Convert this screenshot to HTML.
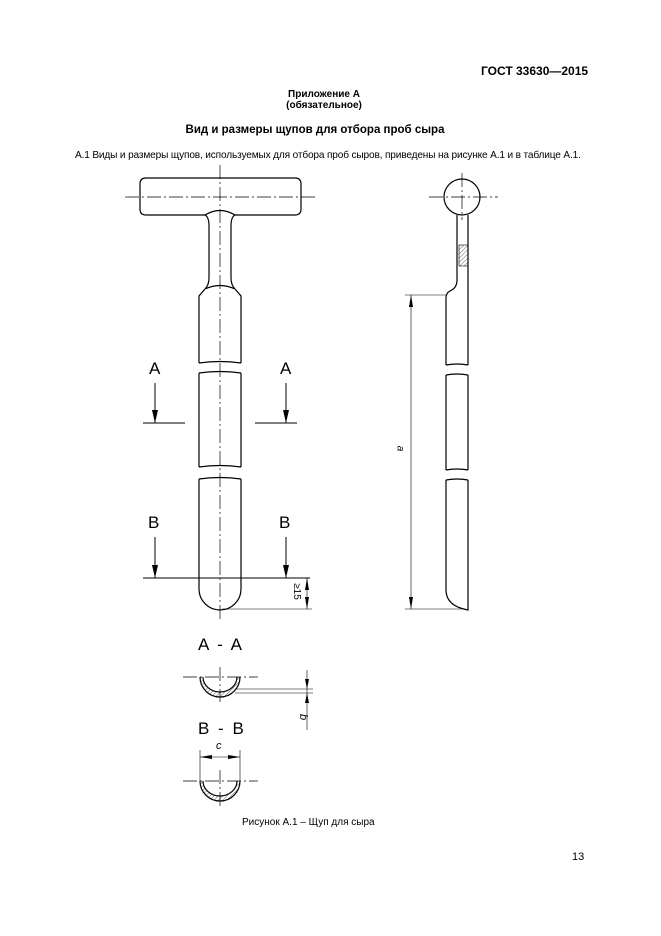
<!DOCTYPE html><html><head><meta charset="utf-8"><style>
body{margin:0;width:661px;height:936px;background:#fff;position:relative;font-family:"Liberation Sans",Arial,sans-serif;color:#000}
.t{position:absolute;white-space:nowrap}
</style></head><body>
<div class="t" style="left:481px;top:64px;font-size:12px;font-weight:bold">ГОСТ 33630—2015</div>
<div class="t" style="left:0;width:648px;text-align:center;top:89px;font-size:10px;font-weight:bold;line-height:11px">Приложение А<br>(обязательное)</div>
<div class="t" style="left:0;width:630px;text-align:center;top:124px;font-size:11.5px;font-weight:bold">Вид и размеры щупов для отбора проб сыра</div>
<div class="t" style="left:75px;top:150px;font-size:10.1px;letter-spacing:-0.15px">А.1 Виды и размеры щупов, используемых для отбора проб сыров, приведены на рисунке А.1 и в таблице А.1.</div>
<svg width="661" height="936" style="position:absolute;left:0;top:0" fill="none" stroke="#000" stroke-width="1.2">
<defs><pattern id="h" width="3" height="3" patternUnits="userSpaceOnUse" patternTransform="rotate(45)"><line x1="0" y1="0" x2="0" y2="3" stroke="#000" stroke-width="0.6"/></pattern></defs>
<!-- handle -->
<path d="M205 215 L146 215 Q140 215 140 209 L140 184 Q140 178 146 178 L295 178 Q301 178 301 184 L301 209 Q301 215 295 215 L235 215"/>
<path d="M205 215 Q220 206 235 215 M205 215 Q209 217 209 226 L209 278 Q209 285 205 289 M235 215 Q231 217 231 226 L231 278 Q231 285 235 289 M205 289 Q220 282 235 289"/>
<path d="M205 289 L199 296 L199 363 M235 289 L241 296 L241 363"/>
<path d="M199 363 Q220 360 241 363 M199 373 Q220 370 241 373"/>
<path d="M199 373 L199 467 M241 373 L241 467 M199 467 Q220 464 241 467 M199 479 Q220 476 241 479"/>
<path d="M199 479 L199 589 A21 21 0 0 0 241 589 L241 479"/>
<g stroke-width="0.7" stroke-dasharray="14 3 2 3">
<line x1="220" y1="165" x2="220" y2="622"/>
<line x1="125" y1="197" x2="316" y2="197"/>
<line x1="429" y1="197" x2="498" y2="197"/>
<line x1="462" y1="173" x2="462" y2="220"/>
</g>
<g stroke-width="1">
<line x1="143" y1="423" x2="185" y2="423"/><line x1="255" y1="423" x2="297" y2="423"/>
<line x1="155" y1="383" x2="155" y2="423"/><line x1="286" y1="383" x2="286" y2="423"/>
<line x1="143" y1="578" x2="310" y2="578"/>
<line x1="155" y1="537" x2="155" y2="578"/><line x1="286" y1="537" x2="286" y2="578"/>
</g>
<g fill="#000" stroke="none">
<path d="M152 410 L158 410 L155 423Z"/><path d="M283 410 L289 410 L286 423Z"/>
<path d="M152 565 L158 565 L155 578Z"/><path d="M283 565 L289 565 L286 578Z"/>
</g>
<g stroke-width="0.6">
<line x1="222" y1="609" x2="312" y2="609"/><line x1="307" y1="578" x2="307" y2="609"/>
</g>
<g fill="#000" stroke="none"><path d="M305 590 L309 590 L307 578Z"/><path d="M305 597 L309 597 L307 609Z"/></g>
<!-- side view -->
<circle cx="462" cy="197" r="18"/>
<path d="M457 215 L457 280 Q457 288 450 291 Q446 293 446 298 L446 365 M468 215 L468 365"/>
<rect x="459" y="245" width="9" height="21" fill="url(#h)" stroke-width="0.6"/>
<path d="M446 365 Q457 363 468 365 M446 375 Q457 373 468 375 M446 375 L446 470 M468 375 L468 470 M446 470 Q457 468 468 470 M446 480 Q457 478 468 480"/>
<path d="M446 480 L446 590 Q446 606 468 610 L468 480"/>
<g stroke-width="0.6"><line x1="405" y1="295" x2="447" y2="295"/><line x1="405" y1="609" x2="462" y2="609"/><line x1="411" y1="295" x2="411" y2="609"/></g>
<g fill="#000" stroke="none"><path d="M409 307 L413 307 L411 295Z"/><path d="M409 597 L413 597 L411 609Z"/></g>
<!-- section views -->
<g stroke-width="0.7" stroke-dasharray="14 3 2 3"><line x1="183" y1="677" x2="258" y2="677"/><line x1="183" y1="781" x2="258" y2="781"/><line x1="220" y1="667" x2="220" y2="702"/><line x1="220" y1="770" x2="220" y2="806"/></g>
<path d="M200 677 A20 20 0 0 0 240 677 M203 677 A17 15 0 0 0 237 677"/>
<path d="M203 677 A17 15 0 0 0 237 677 L240 677 A20 20 0 0 1 200 677Z" fill="url(#h)" stroke="none"/>
<path d="M200 781 A20 20 0 0 0 240 781 M203 781 A17 15 0 0 0 237 781"/>
<path d="M203 781 A17 15 0 0 0 237 781 L240 781 A20 20 0 0 1 200 781Z" fill="url(#h)" stroke="none"/>
<g stroke-width="0.6">
<line x1="235" y1="689" x2="313" y2="689"/><line x1="235" y1="693" x2="313" y2="693"/>
<line x1="307" y1="670" x2="307" y2="730"/>
<line x1="200" y1="750" x2="200" y2="781"/><line x1="240" y1="750" x2="240" y2="781"/>
<line x1="200" y1="757" x2="240" y2="757"/>
</g>
<g fill="#000" stroke="none"><path d="M305 679 L309 679 L307 689Z"/><path d="M305 703 L309 703 L307 693Z"/>
<path d="M212 755 L212 759 L200 757Z"/><path d="M228 755 L228 759 L240 757Z"/></g>
</svg>
<div class="t" style="left:149px;top:359px;font-size:17px">A</div>
<div class="t" style="left:280px;top:359px;font-size:17px">A</div>
<div class="t" style="left:148px;top:513px;font-size:17px">B</div>
<div class="t" style="left:279px;top:513px;font-size:17px">B</div>
<div class="t" style="left:288px;top:586px;font-size:10px;transform:rotate(90deg)">≥15</div>
<div class="t" style="left:397px;top:443px;font-size:10px;font-style:italic;transform:rotate(90deg)">a</div>
<div class="t" style="left:300px;top:711px;font-size:11px;font-style:italic;transform:rotate(90deg)">b</div>
<div class="t" style="left:216px;top:740px;font-size:11px;font-style:italic">c</div>
<div class="t" style="left:198px;top:635px;font-size:17px;word-spacing:4px">A - A</div>
<div class="t" style="left:198px;top:719px;font-size:17px;word-spacing:4px">B - B</div>
<div class="t" style="left:242px;top:817px;font-size:10px">Рисунок  А.1 – Щуп для сыра</div>
<div class="t" style="left:572px;top:851px;font-size:11px">13</div>
</body></html>
